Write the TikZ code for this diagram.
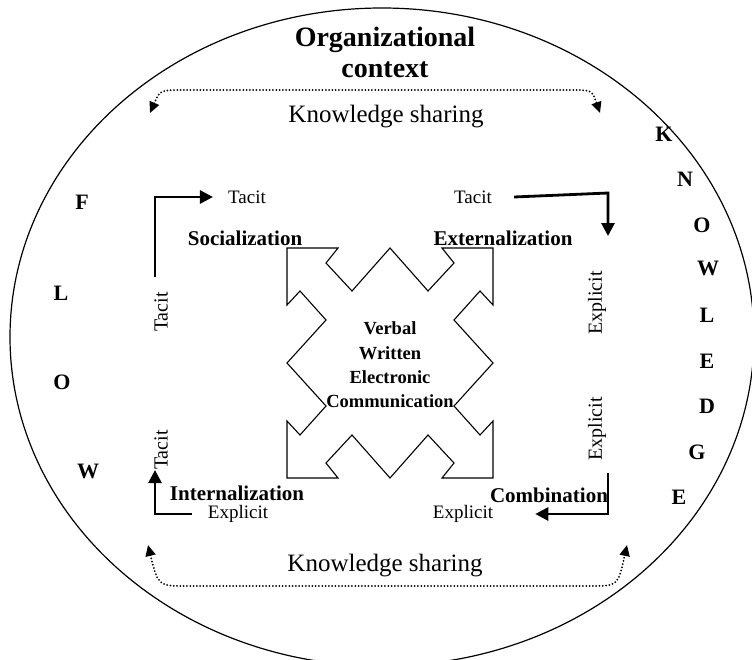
\documentclass[tikz,border=0pt]{standalone}
\usepackage{fontspec}
\setmainfont{Liberation Serif}
\usetikzlibrary{arrows.meta}

\begin{document}
\begin{tikzpicture}[x=1pt,y=-1pt,>={Triangle[length=13pt,width=13pt]},
        lbl/.style={inner sep=0pt,font=\fontsize{19}{22}\selectfont},
        side/.style={inner sep=0pt,rotate=90,font=\fontsize{20}{23}\selectfont},
        mode/.style={inner sep=0pt,font=\fontsize{21}{25}\selectfont\bfseries},
        letter/.style={inner sep=0pt,font=\fontsize{22}{26}\selectfont\bfseries},
        conv/.style={line width=2.8pt,->},
        share/.style={line width=2pt,dash pattern=on 0pt off 3.3pt,line cap=round,
            {Triangle[length=11pt,width=10pt]}-{Triangle[length=11pt,width=10pt]}}]
    \useasboundingbox (0,0) rectangle (752,659);
    % organizational context
    \draw[line width=1.2pt] (382,337) ellipse [x radius=372pt,y radius=329pt];
    \node[inner sep=0pt,align=center,font=\fontsize{28}{31}\selectfont\bfseries] (ctx) at (385,52)
        {Organizational\\context};
    % knowledge sharing
    \node[inner sep=0pt,font=\fontsize{25}{30}\selectfont] (ksT) at (386,117) {Knowledge sharing};
    \node[inner sep=0pt,font=\fontsize{25}{30}\selectfont] (ksB) at (385,566) {Knowledge sharing};
    \coordinate (ksTL) at (150,113);
    \coordinate (ksTR) at (600,113);
    \coordinate (ksBL) at (148,545);
    \coordinate (ksBR) at (627,545);
    \draw[share] (ksTL) .. controls (160,90) .. (185,90) -- (570,90) .. controls (592,90) .. (ksTR);
    \draw[share] (ksBL) .. controls (158,586) .. (188,586) -- (590,586) .. controls (618,586) .. (ksBR);
    % flow / knowledge letters
    \foreach \ch/\px/\py [count=\i] in {F/82/202,L/61/293,O/62/382,W/88/471}
        \node[letter] (fl\i) at (\px,\py) {\ch};
    \foreach \ch/\px/\py [count=\i] in {K/664/134,N/685/179,O/702/225,W/708/268,L/707/315,
            E/707/361,D/707/406,G/697/452,E/679/497}
        \node[letter] (kn\i) at (\px,\py) {\ch};
    % communication star
    \begin{scope}[shift={(390,363)},line width=1.1pt]
        \draw (-103,-115) -- (-52,-115) -- (-64,-100) -- (-38,-72) -- (0,-115) -- (38,-72)
            -- (64,-100) -- (52,-115) -- (103,-115)
            -- (103,-58) -- (90,-72) -- (64,-43) -- (103,0) -- (64,43) -- (90,72) -- (103,58)
            -- (103,115)
            -- (52,115) -- (64,100) -- (38,72) -- (0,115) -- (-38,72) -- (-64,100) -- (-52,115)
            -- (-103,115)
            -- (-103,58) -- (-90,72) -- (-64,43) -- (-103,0) -- (-64,-43) -- (-90,-72)
            -- (-103,-58) -- cycle;
    \end{scope}
    \node[inner sep=0pt,align=center,font=\fontsize{18.5}{24.3}\selectfont\bfseries] (comm) at (390,365)
        {Verbal\\Written\\Electronic\\Communication};
    % modes
    \node[mode] (soc) at (245,238) {Socialization};
    \node[mode] (ext) at (503,238) {Externalization};
    \node[mode] (int) at (237,493) {Internalization};
    \node[mode] (com) at (549,495) {Combination};
    % tacit / explicit
    \node[lbl] (tacS) at (247,197) {Tacit};
    \node[lbl] (tacE) at (473,197) {Tacit};
    \node[side] (tacL) at (161,312) {Tacit};
    \node[side] (tacI) at (161,450) {Tacit};
    \node[side] (expR) at (597,303) {Explicit};
    \node[side] (expC) at (597,429) {Explicit};
    \node[lbl] (expB) at (463,514) {Explicit};
    \node[lbl] (expI) at (238,514) {Explicit};
    % conversions
    \coordinate (extC) at (608,193);
    \coordinate (extO) at (608,236);
    \draw[conv] ([xshift=-6pt,yshift=14.5pt]tacL.east) |- ([xshift=-15pt]tacS.west);
    \draw[conv] ([xshift=22pt]tacE.east) -- (extC) -- (extO);
    \draw[conv] ([xshift=11pt,yshift=-12pt]expC.west) |- ([xshift=42pt]expB.east);
    \draw[conv] ([xshift=-16pt]expI.west) -| ([xshift=-6pt]tacI.west);
\end{tikzpicture}
\end{document}
